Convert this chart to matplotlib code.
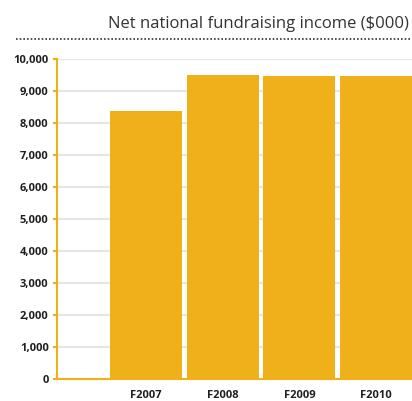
import matplotlib
matplotlib.use("Agg")
import matplotlib.pyplot as plt
from matplotlib.lines import Line2D

categories = ["F2007", "F2008", "F2009", "F2010"]
values = [8380, 9500, 9470, 9470]
yticks = [0, 1000, 2000, 3000, 4000, 5000, 6000, 7000, 8000, 9000, 10000]
title = "Net national fundraising income ($000)"

bar_color = "#F0B01A"
text_color = "#231F20"

fig = plt.figure(figsize=(4.12, 4.01), dpi=100)
ax = fig.add_axes([57/412, 1 - 379/401, 1 - 57/412, (379 - 59)/401])

x = list(range(len(categories)))
ax.bar(x, values, width=0.94, color=bar_color, zorder=3)
ax.set_xlim(-1.163, 3.47)
ax.set_ylim(0, 10000)
ax.set_yticks(yticks)
ax.set_yticklabels([f"{v:,}" for v in yticks], fontsize=8, fontweight="bold",
                   color=text_color, family="Open Sans")
ax.set_xticks(x)
ax.set_xticklabels(categories, fontsize=8, fontweight="bold", color=text_color,
                   family="Open Sans")
ax.tick_params(axis="x", length=0, pad=8)
ax.tick_params(axis="y", length=3, width=1.5, color=bar_color, pad=3)
ax.yaxis.grid(True, color="#E6E6E6", linewidth=1.5, zorder=0)
ax.set_axisbelow(True)
for s in ["top", "right"]:
    ax.spines[s].set_visible(False)
ax.spines["left"].set_color(bar_color)
ax.spines["left"].set_linewidth(1.5)
ax.spines["bottom"].set_color(bar_color)
ax.spines["bottom"].set_linewidth(1.5)
ax.spines["bottom"].set_zorder(4)

fig.text(409/412, 1 - 24/401, title, ha="right", va="center", fontsize=12,
         color="#333333", family="Open Sans")
fig.add_artist(Line2D([16/412, 1.0], [1 - 39/401, 1 - 39/401], transform=fig.transFigure,
                      color="#333333", linewidth=1.2, linestyle=(0, (1, 1.2))))

fig.savefig("out.png", dpi=100)
